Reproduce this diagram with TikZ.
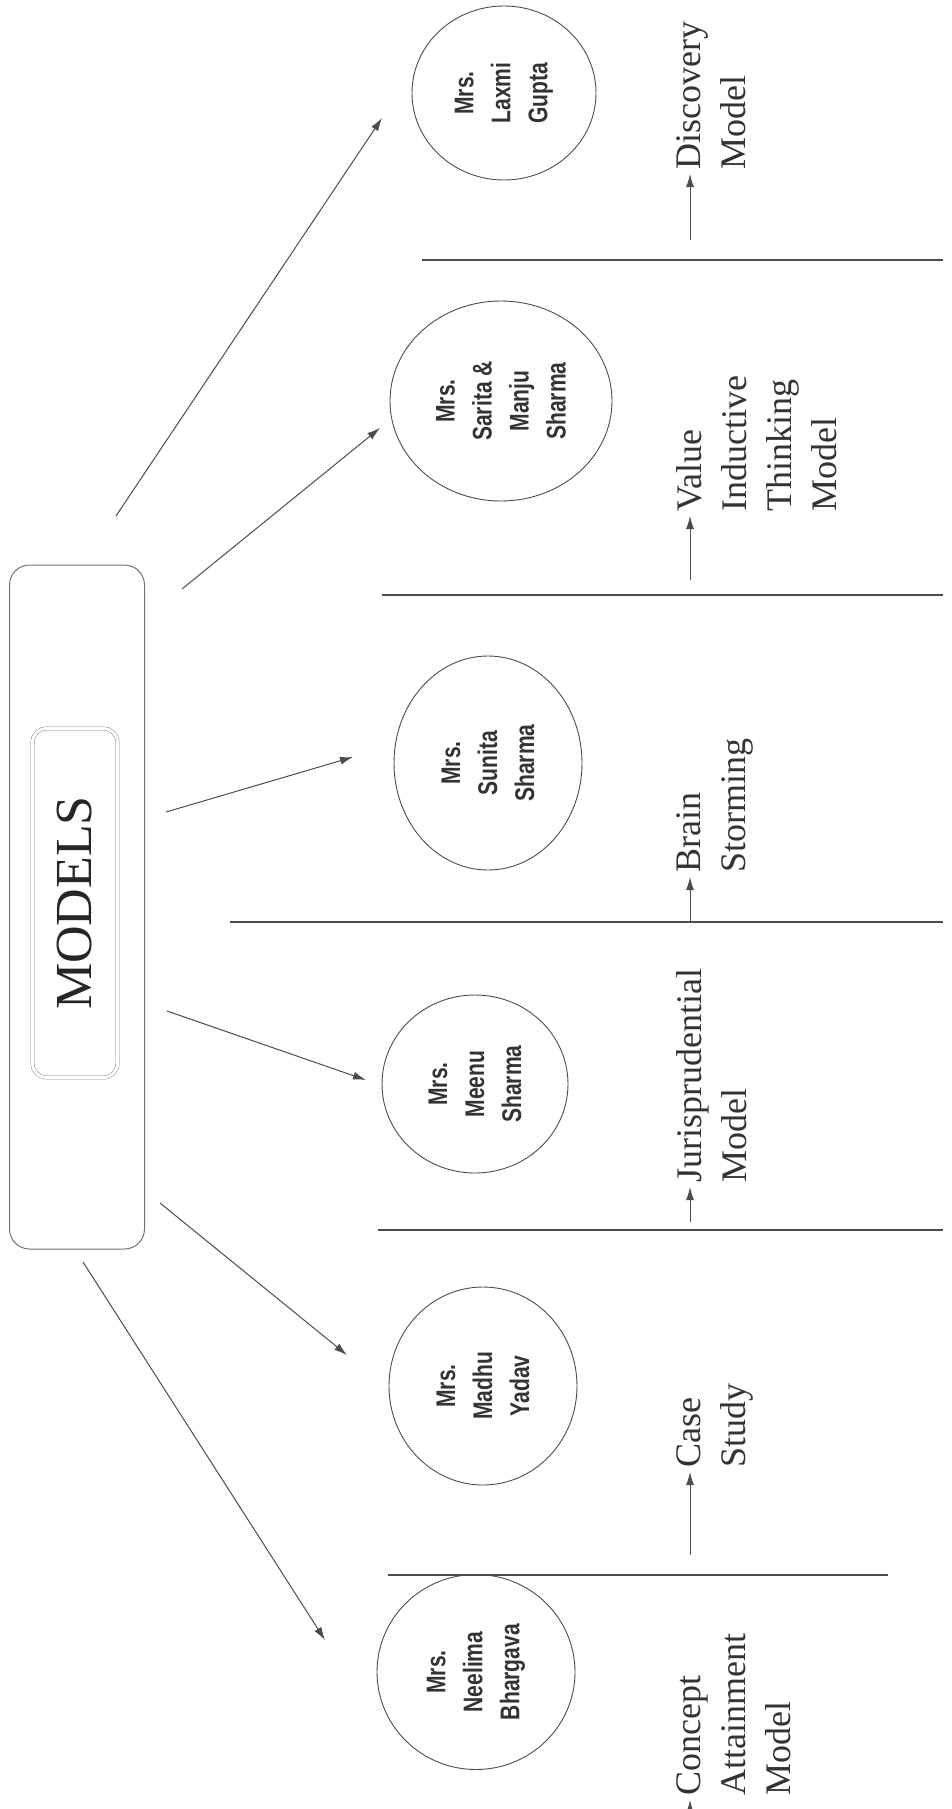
\documentclass[tikz,border=0pt]{standalone}
\usepackage{fontspec}
\usetikzlibrary{shapes.geometric,arrows.meta}
\setmainfont{Liberation Serif}
\newfontfamily\namefont[FakeStretch=0.78]{Liberation Sans}
\begin{document}
\begin{tikzpicture}[x=1pt,y=-1pt,>={Latex[length=13pt,width=8pt]},
    person/.style={draw=black!70,ellipse,inner sep=0pt,align=center,rotate=90,line width=0.9pt,
        font=\namefont\bfseries\fontsize{27}{37}\selectfont,text=black!80},
    outcome/.style={rotate=90,anchor=north west,align=left,inner sep=0pt,
        font=\fontsize{36}{45}\selectfont,text=black!80},
    link/.style={->,draw=black!70,line width=1pt},
    divider/.style={draw=black!70,line width=1.4pt}]
    \useasboundingbox (0,0) rectangle (952,1809);
    % the box with the heading
    \node[draw=black!55,line width=1pt,rounded corners=20pt,minimum width=684pt,minimum height=135pt,rotate=90](hub) at (77,907){};
    \node[draw=black!55,double,double distance=3pt,rounded corners=14pt,minimum width=349pt,minimum height=85pt,
        rotate=90,font=\fontsize{52}{52}\selectfont,text=black!85](title) at (75,903){MODELS};
    % teachers
    \node[person,minimum width=174pt,minimum height=184pt](laxmi) at (504,93){Mrs.\\Laxmi\\Gupta};
    \node[person,minimum width=200pt,minimum height=222pt](sarita) at (501,401){Mrs.\\Sarita \&\\Manju\\Sharma};
    \node[person,minimum width=214pt,minimum height=188pt](sunita) at (488,763){Mrs.\\Sunita\\Sharma};
    \node[person,minimum width=178pt,minimum height=186pt](meenu) at (475,1084){Mrs.\\Meenu\\Sharma};
    \node[person,minimum width=198pt,minimum height=188pt](madhu) at (483,1386){Mrs.\\Madhu\\Yadav};
    \node[person,minimum width=195pt,minimum height=198pt](neelima) at (476,1672){Mrs.\\Neelima\\Bhargava};
    % arrows out of the box
    \coordinate (t1) at (116,516); \coordinate (h1) at (382,118);
    \coordinate (t2) at (182,589); \coordinate (h2) at (380,428);
    \coordinate (t3) at (166,812); \coordinate (h3) at (353,757);
    \coordinate (t4) at (167,1011); \coordinate (h4) at (366,1080);
    \coordinate (t5) at (160,1203); \coordinate (h5) at (347,1355);
    \coordinate (t6) at (83,1262); \coordinate (h6) at (325,1640);
    \draw[link](t1)--(h1);
    \draw[link](t2)--(h2);
    \draw[link](t3)--(h3);
    \draw[link](t4)--(h4);
    \draw[link](t5)--(h5);
    \draw[link](t6)--(h6);
    % dividing lines
    \draw[divider](422,260)--(943,260);
    \draw[divider](382,595)--(943,595);
    \draw[divider](230,922)--(943,922);
    \draw[divider](378,1230)--(943,1230);
    \draw[divider](388,1575)--(888,1575);
    % models
    \node[outcome](discovery) at (676,170){Discovery\\Model};
    \node[outcome](value) at (676,512){Value\\Inductive\\Thinking\\Model};
    \node[outcome](brain) at (676,873){Brain\\Storming};
    \node[outcome](juris) at (676,1183){Jurisprudential\\Model};
    \node[outcome](case) at (676,1468){Case\\Study};
    \node[outcome](concept) at (676,1796){Concept\\Attainment\\Model};
    \coordinate (d1) at (690,240); \coordinate (d2) at (690,580);
    \coordinate (d3) at (690,922); \coordinate (d4) at (690,1222);
    \coordinate (d5) at (690,1555); \coordinate (d6) at (690,1840);
    \draw[link,shorten >=4pt](d1)--(discovery.north west-|d1);
    \draw[link,shorten >=4pt](d2)--(value.north west-|d2);
    \draw[link,shorten >=4pt](d3)--(brain.north west-|d3);
    \draw[link,shorten >=4pt](d4)--(juris.north west-|d4);
    \draw[link,shorten >=4pt](d5)--(case.north west-|d5);
    \draw[link,shorten >=4pt](d6)--(concept.north west-|d6);
\end{tikzpicture}
\end{document}
